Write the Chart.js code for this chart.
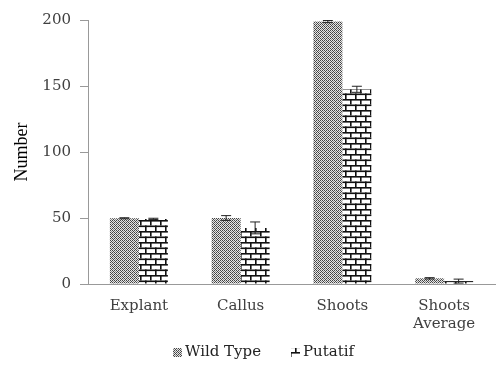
<!DOCTYPE html>
<html>
<head>
<meta charset="utf-8">
<script src="https://cdn.jsdelivr.net/npm/chart.js@4"></script>
<style>
  html, body { margin: 0; padding: 0; background: #fff; }
  #wrap { position: relative; width: 496px; height: 365px; }
</style>
</head>
<body>
<div id="wrap"><canvas id="shootChart" width="496" height="365"></canvas></div>
<script>
const categories = [["Explant"], ["Callus"], ["Shoots"], ["Shoots", "Average"]];
const seriesNames = ["Wild Type", "Putatif"];
const wildType = [49.8, 50, 198.8, 4.3];
const wildTypeErr = [0.4, 1.8, 0.8, 0.5];
const putatif = [49.3, 42.5, 147.5, 2.2];
const putatifErr = [0.5, 4.5, 2.3, 1.5];
const yTicks = [0, 50, 100, 150, 200];

const serif = "DejaVu Serif";

// dotted/checker fill for wild type
function makeCheckPattern() {
  const c = document.createElement("canvas");
  c.width = 4;
  c.height = 4;
  const g = c.getContext("2d");
  g.fillStyle = "#e6e6e6";
  g.fillRect(0, 0, 4, 4);
  g.fillStyle = "#444";
  [[0, 0], [2, 0], [1, 1], [3, 1], [0, 2], [2, 2], [1, 3], [3, 3]].forEach(([x, y]) => g.fillRect(x, y, 1, 1));
  g.fillStyle = "#888";
  g.fillRect(1, 1, 1, 1);
  g.fillRect(3, 3, 1, 1);
  return g.createPattern(c, "repeat");
}

// brick fill for putatif
function makeBrickPattern() {
  const c = document.createElement("canvas");
  c.width = 10;
  c.height = 11;
  const g = c.getContext("2d");
  g.fillStyle = "#ffffff";
  g.fillRect(0, 0, 10, 11);
  g.fillStyle = "#111111";
  g.fillRect(0, 0, 10, 1.6);
  g.fillRect(0, 5.5, 10, 1.6);
  g.fillRect(0, 0, 1.6, 5.5);
  g.fillRect(5, 5.5, 1.6, 5.5);
  return g.createPattern(c, "repeat");
}

const checkFill = makeCheckPattern();
const brickFill = makeBrickPattern();

const errorBars = {
  id: "errorBars",
  afterDatasetsDraw(chart) {
    const ctx = chart.ctx;
    const y = chart.scales.y;
    chart.data.datasets.forEach((ds, i) => {
      const meta = chart.getDatasetMeta(i);
      meta.data.forEach((bar, j) => {
        const v = ds.data[j];
        const e = ds.errors[j];
        const top = y.getPixelForValue(v + e);
        const bot = y.getPixelForValue(v - e);
        ctx.save();
        ctx.strokeStyle = "#222";
        ctx.lineWidth = 1;
        ctx.beginPath();
        ctx.moveTo(bar.x, top);
        ctx.lineTo(bar.x, bot);
        ctx.moveTo(bar.x - 5, top);
        ctx.lineTo(bar.x + 5, top);
        ctx.moveTo(bar.x - 5, bot);
        ctx.lineTo(bar.x + 5, bot);
        ctx.stroke();
        ctx.restore();
      });
    });
  }
};

// small pattern legend under the x labels
const bottomLegend = {
  id: "bottomLegend",
  afterDraw(chart) {
    const ctx = chart.ctx;
    const fills = [checkFill, brickFill];
    const yMid = 352;
    const starts = [173, 291];
    ctx.save();
    ctx.font = "15px " + serif;
    ctx.textBaseline = "middle";
    seriesNames.forEach((name, i) => {
      ctx.fillStyle = fills[i];
      ctx.fillRect(starts[i], yMid - 4, 9, 9);
      ctx.fillStyle = "#222";
      ctx.fillText(name, starts[i] + 12, yMid);
    });
    ctx.restore();
  }
};

const ctx = document.getElementById("shootChart");
new Chart(ctx, {
  type: "bar",
  data: {
    labels: categories,
    datasets: [
      {
        label: seriesNames[0],
        data: wildType,
        errors: wildTypeErr,
        backgroundColor: checkFill,
        borderWidth: 0,
        barPercentage: 1,
        categoryPercentage: 0.57,
      },
      {
        label: seriesNames[1],
        data: putatif,
        errors: putatifErr,
        backgroundColor: brickFill,
        borderWidth: 0,
        barPercentage: 1,
        categoryPercentage: 0.57,
      },
    ],
  },
  options: {
    responsive: false,
    animation: false,
    devicePixelRatio: 1,
    layout: { padding: { top: 20, right: 1, left: 0, bottom: 0 } },
    scales: {
      y: {
        min: 0,
        max: 200,
        afterFit: (s) => { s.width = 88; },
        afterBuildTicks: (s) => { s.ticks = yTicks.map((v) => ({ value: v })); },
        grid: {
          drawOnChartArea: false,
          drawTicks: true,
          tickLength: 8,
          color: "#999",
        },
        border: { color: "#999" },
        ticks: {
          padding: 9,
          color: "#404040",
          font: { family: serif, size: 15 },
        },
        title: {
          display: true,
          text: "Number",
          color: "#000",
          font: { family: "Liberation Serif", size: 18 },
          padding: { top: 11, bottom: 0 },
        },
      },
      x: {
        afterFit: (s) => { s.height = 81; },
        grid: { display: false },
        border: { color: "#999" },
        ticks: {
          padding: 5,
          maxRotation: 0,
          autoSkip: false,
          color: "#404040",
          font: { family: serif, size: 15, lineHeight: 1.2 },
        },
      },
    },
    plugins: {
      legend: { display: false },
      tooltip: { enabled: false },
    },
  },
  plugins: [errorBars, bottomLegend],
});
</script>
</body>
</html>
